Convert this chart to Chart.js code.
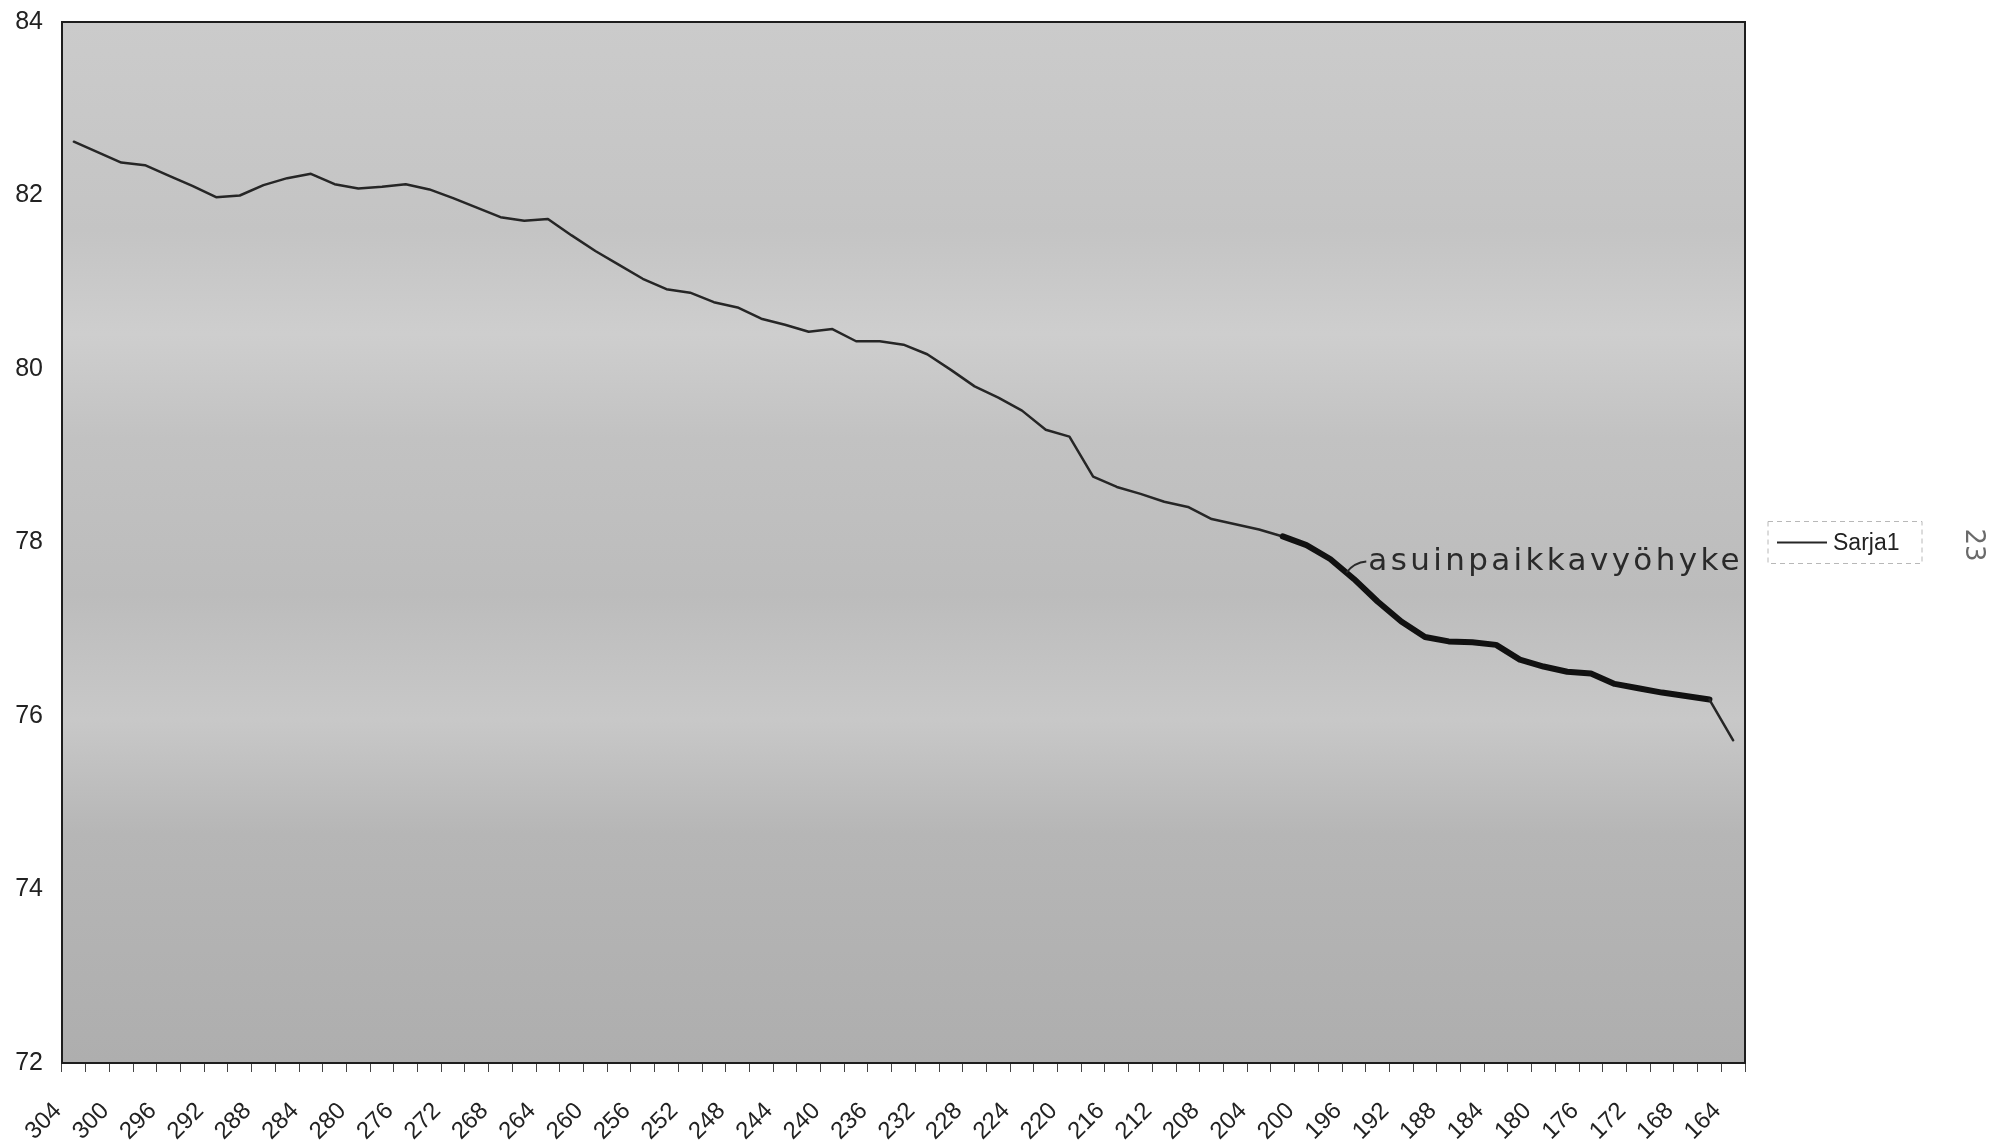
<!DOCTYPE html>
<html>
<head>
<meta charset="utf-8">
<title>Sarja1</title>
<script src="https://cdn.jsdelivr.net/npm/chart.js@4.4.1/dist/chart.umd.min.js"></script>
<style>
  html, body { margin: 0; padding: 0; background: #ffffff; }
  #wrap { width: 2013px; height: 1147px; }
</style>
</head>
<body>
<div id="wrap"><canvas id="myChart" width="2013" height="1147"></canvas></div>
<script>
// categories run from 304 down to 164 in steps of 2
const categories = [
    304, 302, 300, 298, 296, 294, 292, 290, 288, 286,
    284, 282, 280, 278, 276, 274, 272, 270, 268, 266,
    264, 262, 260, 258, 256, 254, 252, 250, 248, 246,
    244, 242, 240, 238, 236, 234, 232, 230, 228, 226,
    224, 222, 220, 218, 216, 214, 212, 210, 208, 206,
    204, 202, 200, 198, 196, 194, 192, 190, 188, 186,
    184, 182, 180, 178, 176, 174, 172, 170, 168, 166,
    164
];

const sarja1 = [
    82.62, 82.50, 82.38, 82.35, 82.23, 82.11, 81.98, 82.00, 82.12, 82.20,
    82.25, 82.13, 82.08, 82.10, 82.13, 82.07, 81.97, 81.86, 81.75, 81.71,
    81.73, 81.54, 81.36, 81.20, 81.04, 80.92, 80.88, 80.77, 80.71, 80.58,
    80.51, 80.43, 80.46, 80.32, 80.32, 80.28, 80.17, 79.99, 79.80, 79.67,
    79.52, 79.30, 79.22, 78.76, 78.64, 78.56, 78.47, 78.41, 78.27, 78.21,
    78.15, 78.07, 77.97, 77.81, 77.58, 77.32, 77.09, 76.91, 76.86, 76.85,
    76.82, 76.65, 76.57, 76.51, 76.49, 76.37, 76.32, 76.27, 76.23, 76.19,
    75.72
];

const yTicks = [72, 74, 76, 78, 80, 82, 84];

// hand-marked stretch of the curve and its note
const markFrom = 202;
const markTo = 166;
const markNote = 'asuinpaikkavyöhyke';
const pageNumber = '23';

const fromIdx = categories.indexOf(markFrom);
const toIdx = categories.indexOf(markTo);

const plotBackground = {
    id: 'plotBackground',
    beforeDraw(chart) {
        const { ctx, chartArea: a } = chart;
        ctx.save();
        const g = ctx.createLinearGradient(0, a.top, 0, a.bottom);
        g.addColorStop(0, '#cbcbcb');
        g.addColorStop(0.2, '#c4c4c4');
        g.addColorStop(0.3, '#cecece');
        g.addColorStop(0.4, '#c2c2c2');
        g.addColorStop(0.55, '#bcbcbc');
        g.addColorStop(0.67, '#c8c8c8');
        g.addColorStop(0.78, '#b6b6b6');
        g.addColorStop(1, '#aeaeae');
        ctx.fillStyle = g;
        ctx.fillRect(a.left, a.top, a.right - a.left, a.bottom - a.top);
        ctx.restore();
    },
    afterDraw(chart) {
        const { ctx, chartArea: a } = chart;
        ctx.save();
        ctx.strokeStyle = '#1e1e1e';
        ctx.lineWidth = 2;
        ctx.strokeRect(a.left, a.top, a.right - a.left, a.bottom - a.top);

        // legend box
        const ds = chart.data.datasets[0];
        const cy = (a.top + a.bottom) / 2;
        const lx = a.right + 23;
        ctx.strokeStyle = '#b8b8b8';
        ctx.lineWidth = 1;
        ctx.setLineDash([5, 4]);
        ctx.strokeRect(lx, cy - 21, 154, 42);
        ctx.setLineDash([]);
        ctx.strokeStyle = ds.borderColor;
        ctx.lineWidth = 2;
        ctx.beginPath();
        ctx.moveTo(lx + 9, cy);
        ctx.lineTo(lx + 59, cy);
        ctx.stroke();
        ctx.fillStyle = '#222';
        ctx.font = '23px "Liberation Sans", Arial, sans-serif';
        ctx.textBaseline = 'middle';
        ctx.fillText(ds.label, lx + 65, cy + 1);

        // handwritten note next to the marked stretch
        const pts = chart.getDatasetMeta(0).data;
        const p0 = pts[fromIdx + 2], p1 = pts[fromIdx + 3];
        const sx = p0.x + (p1.x - p0.x) * 0.68;
        const sy = p0.y + (p1.y - p0.y) * 0.68;
        ctx.strokeStyle = '#2a2a2a';
        ctx.lineWidth = 2;
        ctx.beginPath();
        ctx.moveTo(sx, sy);
        ctx.quadraticCurveTo(sx + 8, sy - 10, sx + 20, sy - 11);
        ctx.stroke();
        ctx.font = '31px "DejaVu Sans", sans-serif';
        ctx.textBaseline = 'alphabetic';
        ctx.fillStyle = '#2a2a2a';
        const tx = sx + 22;
        const want = a.right - tx - 2;
        const plain = ctx.measureText(markNote).width;
        ctx.letterSpacing = Math.max(0, (want - plain) / markNote.length).toFixed(2) + 'px';
        ctx.fillText(markNote, tx, sy - 3);
        ctx.letterSpacing = '0px';

        // page number written sideways in the margin
        ctx.translate(1973, 545);
        ctx.rotate(Math.PI / 2);
        ctx.fillStyle = '#6a6a6a';
        ctx.font = '26px "DejaVu Sans", sans-serif';
        ctx.textAlign = 'center';
        ctx.textBaseline = 'middle';
        ctx.fillText(pageNumber, 0, 0);
        ctx.restore();
    }
};

const ctx = document.getElementById('myChart').getContext('2d');
const myChart = new Chart(ctx, {
    type: 'line',
    data: {
        labels: categories.map(String),
        datasets: [{
            label: 'Sarja1',
            data: sarja1,
            borderColor: '#262626',
            borderWidth: 2.5,
            pointRadius: 0,
            tension: 0,
            borderCapStyle: 'round',
            borderJoinStyle: 'round',
            segment: {
                borderWidth: c => (c.p0DataIndex >= fromIdx && c.p1DataIndex <= toIdx) ? 6 : 2.5,
                borderColor: c => (c.p0DataIndex >= fromIdx && c.p1DataIndex <= toIdx) ? '#111' : '#262626'
            }
        }]
    },
    options: {
        responsive: false,
        animation: false,
        layout: { padding: { top: 22, right: 268, left: 0, bottom: 0 } },
        plugins: {
            legend: { display: false },
            tooltip: { enabled: false }
        },
        scales: {
            x: {
                type: 'category',
                offset: true,
                grid: {
                    offset: true,
                    drawOnChartArea: false,
                    drawTicks: true,
                    tickLength: 9,
                    color: '#444',
                    lineWidth: 1
                },
                border: { display: true, color: '#1e1e1e', width: 2 },
                ticks: {
                    autoSkip: false,
                    minRotation: 45,
                    maxRotation: 45,
                    padding: 25,
                    labelOffset: -16,
                    color: '#222',
                    font: { family: '"Liberation Sans", Arial, sans-serif', size: 24 },
                    callback: function (value, index) {
                        return index % 2 === 0 ? this.getLabelForValue(value) : '';
                    }
                },
                afterFit: s => { s.height = 84; }
            },
            y: {
                min: yTicks[0],
                max: yTicks[yTicks.length - 1],
                afterBuildTicks: s => { s.ticks = yTicks.map(v => ({ value: v })); },
                grid: { display: false, drawTicks: false },
                border: { display: true, color: '#1e1e1e', width: 2 },
                ticks: {
                    padding: 19,
                    color: '#222',
                    font: { family: '"Liberation Sans", Arial, sans-serif', size: 25 }
                },
                afterFit: s => {
                    s.width = 62;
                    s.paddingTop = 0;
                    s.paddingBottom = 0;
                }
            }
        }
    },
    plugins: [plotBackground]
});
</script>
</body>
</html>
